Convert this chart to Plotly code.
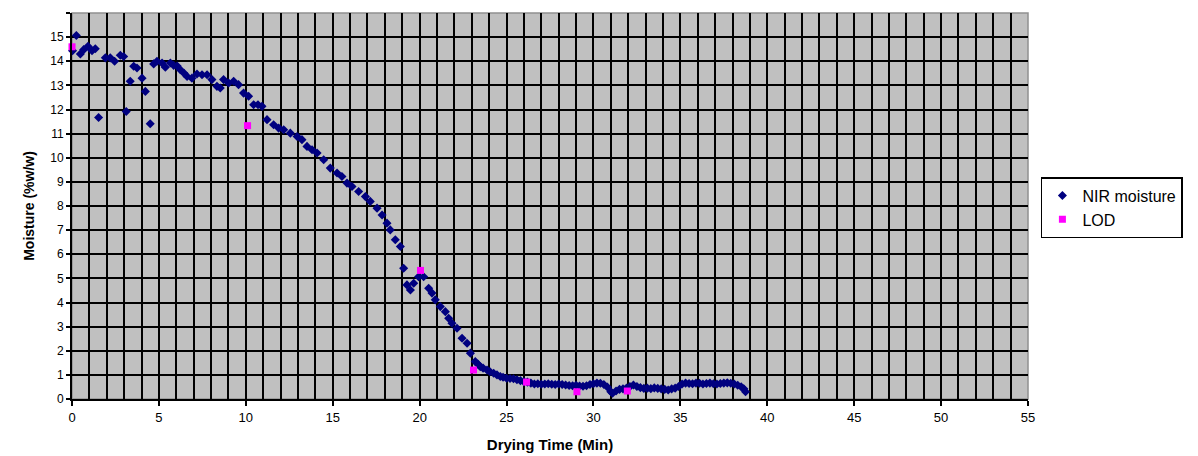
import plotly.graph_objects as go

# NIR moisture readings (time in min, moisture %w/w)
nir_time = [0.03, 0.25, 0.48, 0.67, 0.92, 1.15, 1.34, 1.53, 1.92, 2.20, 2.45, 2.78, 2.97,
            3.12, 3.35, 3.55, 3.74, 4.03, 4.22, 4.50, 4.70, 4.89, 5.18, 5.37, 5.66, 5.85,
            6.05, 6.23, 6.45, 6.62, 6.90, 7.19, 7.48, 7.77, 8.05, 8.34, 8.53, 8.72, 9.01,
            9.30, 9.58, 9.87, 10.16, 10.45, 10.70, 10.93, 11.22, 11.60, 11.89, 12.18, 12.56,
            12.95, 13.23, 13.52, 13.81, 14.10, 14.48, 14.86, 15.25, 15.53, 15.82, 16.11,
            16.49, 16.88, 17.16, 17.55, 17.84, 18.12, 18.31, 18.60, 18.89, 19.08, 19.27,
            19.47, 19.66, 19.94, 20.23, 20.52, 20.71, 20.90, 21.19, 21.48, 21.67, 21.86,
            22.15, 22.44, 22.73, 22.92, 23.20, 23.35, 23.49, 23.65, 23.88, 24.05, 24.26,
            24.45, 24.64, 24.80, 25.00, 25.20, 25.40, 25.60, 25.80, 26.00, 26.20, 26.40,
            26.60, 26.80, 27.00, 27.20, 27.40, 27.60, 27.80, 28.00, 28.20, 28.40, 28.60,
            28.80, 29.00, 29.20, 29.40, 29.60, 29.80, 30.00, 30.20, 30.40, 30.60, 30.80,
            31.00, 31.10, 31.30, 31.50, 31.70, 31.90, 32.10, 32.30, 32.50, 32.70, 32.90,
            33.10, 33.30, 33.50, 33.70, 33.90, 34.10, 34.30, 34.50, 34.70, 34.90, 35.10,
            35.30, 35.50, 35.70, 35.90, 36.10, 36.30, 36.50, 36.70, 36.90, 37.10, 37.30,
            37.50, 37.70, 37.90, 38.10, 38.30, 38.50, 38.65, 38.75]
nir_moisture = [14.44, 15.07, 14.30, 14.48, 14.62, 14.44, 14.52, 11.67, 14.14, 14.14, 14.00,
                14.25, 14.20, 11.92, 13.17, 13.79, 13.72, 13.30, 12.75, 11.41, 13.89, 14.00,
                13.93, 13.75, 13.93, 13.83, 13.80, 13.65, 13.50, 13.37, 13.30, 13.47, 13.44,
                13.44, 13.24, 12.96, 12.89, 13.24, 13.10, 13.17, 13.03, 12.68, 12.55, 12.20,
                12.20, 12.13, 11.58, 11.37, 11.23, 11.16, 11.02, 10.88, 10.75, 10.47, 10.33,
                10.20, 9.92, 9.57, 9.37, 9.22, 8.95, 8.81, 8.60, 8.39, 8.19, 7.91, 7.63,
                7.29, 7.01, 6.60, 6.32, 5.42, 4.73, 4.52, 4.80, 5.07, 5.07, 4.59, 4.39,
                4.11, 3.83, 3.62, 3.35, 3.14, 2.93, 2.52, 2.31, 1.90, 1.55, 1.45, 1.34,
                1.28, 1.20, 1.13, 1.07, 1.00, 0.93, 0.90, 0.86, 0.85, 0.84, 0.80, 0.76,
                0.72, 0.70, 0.66, 0.62, 0.63, 0.61, 0.62, 0.63, 0.61, 0.60, 0.62, 0.60,
                0.58, 0.56, 0.55, 0.57, 0.54, 0.53, 0.55, 0.60, 0.63, 0.66, 0.65, 0.60,
                0.50, 0.30, 0.24, 0.33, 0.40, 0.42, 0.45, 0.52, 0.58, 0.52, 0.47, 0.44,
                0.45, 0.43, 0.46, 0.44, 0.42, 0.40, 0.37, 0.42, 0.45, 0.52, 0.62, 0.66,
                0.64, 0.63, 0.66, 0.65, 0.62, 0.64, 0.66, 0.63, 0.62, 0.64, 0.66, 0.67,
                0.65, 0.62, 0.57, 0.51, 0.42, 0.30]

# Loss-on-drying reference samples
lod_time = [0.0, 10.1, 20.05, 23.1, 26.15, 29.05, 31.95]
lod_moisture = [14.6, 11.33, 5.33, 1.2, 0.7, 0.3, 0.33]

x_ticks = [0, 5, 10, 15, 20, 25, 30, 35, 40, 45, 50, 55]
y_ticks = list(range(0, 17))

fig = go.Figure()
fig.add_trace(go.Scatter(x=nir_time, y=nir_moisture, mode="markers", name="NIR moisture",
                         legendgroup="a", cliponaxis=False,
                         marker=dict(symbol="diamond", size=7, color="#000080",
                                     line=dict(width=0))))
fig.add_trace(go.Scatter(x=lod_time, y=lod_moisture, mode="markers", name="LOD",
                         legendgroup="b", cliponaxis=False,
                         marker=dict(symbol="square", size=7, color="#FF00FF",
                                     line=dict(width=0))))

font_fam = "Liberation Sans, Arial, sans-serif"
fig.update_layout(
    width=1190, height=448,
    margin=dict(l=64, r=170, t=5, b=57, autoexpand=False),
    paper_bgcolor="white", plot_bgcolor="#C0C0C0",
    font=dict(family=font_fam, size=12, color="#000000"),
    showlegend=True,
    legend=dict(x=1.0135, y=0.575, xanchor="left", yanchor="top",
                bgcolor="white", bordercolor="black", borderwidth=1.5,
                font=dict(size=16, family=font_fam), tracegroupgap=0,
                itemwidth=30),
    xaxis=dict(range=[0, 55], tickvals=x_ticks, showgrid=True, gridcolor="black",
               gridwidth=2, zeroline=False, showline=True, linecolor="black", linewidth=2,
               ticks="outside", ticklen=5, tickwidth=1.5, tickcolor="black",
               tickfont=dict(size=13), automargin=False,
               minor=dict(dtick=1, showgrid=True, gridcolor="black", gridwidth=2),
               title=dict(text="<b>Drying Time (Min)</b>", font=dict(size=15), standoff=16)),
    yaxis=dict(range=[0, 16], tickvals=y_ticks, showgrid=True, gridcolor="black",
               gridwidth=2, zeroline=False, showline=True, linecolor="black", linewidth=2,
               ticks="outside", ticklen=4, tickwidth=1.5, tickcolor="black",
               tickfont=dict(size=12), automargin=False,
               title=dict(text="<b>Moisture (%w/w)</b>", font=dict(size=14), standoff=12)),
)
fig.add_shape(type="rect", xref="paper", yref="paper", x0=0, y0=0, x1=1, y1=1,
              line=dict(color="#909090", width=1.5), layer="below")

fig.write_html("out.html")
